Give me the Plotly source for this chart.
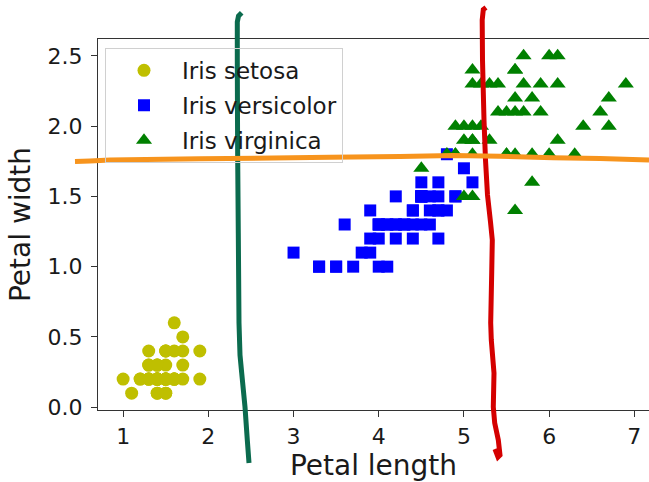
import plotly.graph_objects as go

# ---- data (Iris: petal length, petal width) ----
setosa_length = [1.4, 1.4, 1.3, 1.5, 1.4, 1.7, 1.4, 1.5, 1.4, 1.5, 1.5, 1.6, 1.4, 1.1, 1.2, 1.5, 1.3, 1.4, 1.7, 1.5,
                 1.7, 1.5, 1.0, 1.7, 1.9, 1.6, 1.6, 1.5, 1.4, 1.6, 1.6, 1.5, 1.5, 1.4, 1.5, 1.2, 1.3, 1.4, 1.3, 1.5,
                 1.3, 1.3, 1.3, 1.6, 1.9, 1.4, 1.6, 1.4, 1.5, 1.4]
setosa_width = [0.2, 0.2, 0.2, 0.2, 0.2, 0.4, 0.3, 0.2, 0.2, 0.1, 0.2, 0.2, 0.1, 0.1, 0.2, 0.4, 0.4, 0.3, 0.3, 0.3,
                0.2, 0.4, 0.2, 0.5, 0.2, 0.2, 0.4, 0.2, 0.2, 0.2, 0.2, 0.4, 0.1, 0.2, 0.2, 0.2, 0.2, 0.1, 0.2, 0.2,
                0.3, 0.3, 0.2, 0.6, 0.4, 0.3, 0.2, 0.2, 0.2, 0.2]
versicolor_length = [4.7, 4.5, 4.9, 4.0, 4.6, 4.5, 4.7, 3.3, 4.6, 3.9, 3.5, 4.2, 4.0, 4.7, 3.6, 4.4, 4.5, 4.1, 4.5, 3.9,
                     4.8, 4.0, 4.9, 4.7, 4.3, 4.4, 4.8, 5.0, 4.5, 3.5, 3.8, 3.7, 3.9, 5.1, 4.5, 4.5, 4.7, 4.4, 4.1, 4.0,
                     4.4, 4.6, 4.0, 3.3, 4.2, 4.2, 4.2, 4.3, 3.0, 4.1]
versicolor_width = [1.4, 1.5, 1.5, 1.3, 1.5, 1.3, 1.6, 1.0, 1.3, 1.4, 1.0, 1.5, 1.0, 1.4, 1.3, 1.4, 1.5, 1.0, 1.5, 1.1,
                    1.8, 1.3, 1.5, 1.2, 1.3, 1.4, 1.4, 1.7, 1.5, 1.0, 1.1, 1.0, 1.2, 1.6, 1.5, 1.6, 1.5, 1.3, 1.3, 1.3,
                    1.2, 1.4, 1.2, 1.0, 1.3, 1.2, 1.3, 1.3, 1.1, 1.3]
virginica_length = [6.0, 5.1, 5.9, 5.6, 5.8, 6.6, 4.5, 6.3, 5.8, 6.1, 5.1, 5.3, 5.5, 5.0, 5.1, 5.3, 5.5, 6.7, 6.9, 5.0,
                    5.7, 4.9, 6.7, 4.9, 5.7, 6.0, 4.8, 4.9, 5.6, 5.8, 6.1, 6.4, 5.6, 5.1, 5.6, 6.1, 5.6, 5.5, 4.8, 5.4,
                    5.6, 5.1, 5.1, 5.9, 5.7, 5.2, 5.0, 5.2, 5.4, 5.1]
virginica_width = [2.5, 1.9, 2.1, 1.8, 2.2, 2.1, 1.7, 1.8, 1.8, 2.5, 2.0, 1.9, 2.1, 2.0, 2.4, 2.3, 1.8, 2.2, 2.3, 1.5,
                   2.3, 2.0, 2.0, 1.8, 2.1, 1.8, 1.8, 1.8, 2.1, 1.6, 1.9, 2.0, 2.2, 1.5, 1.4, 2.3, 2.4, 1.8, 1.8, 2.1,
                   2.4, 2.3, 1.9, 2.3, 2.5, 2.3, 1.9, 2.0, 2.3, 1.8]

x_ticks = [1, 2, 3, 4, 5, 6, 7]
y_ticks = [0.0, 0.5, 1.0, 1.5, 2.0, 2.5]
y_tick_labels = ["0.0", "0.5", "1.0", "1.5", "2.0", "2.5"]

# ---- hand-drawn strokes (pixel coordinates of the overlay drawing) ----
green_stroke = [(241.7, 12.7), (238.5, 16), (237.3, 22), (237.3, 60), (237.5, 120), (237.7, 160), (238.3, 233),
                (239, 323), (240, 355), (241.7, 373), (245, 407), (247.3, 440), (249, 463)]
red_stroke = [(486, 7.5), (483.3, 9.5), (482.2, 20), (482.5, 60), (484, 120), (485.5, 160), (487.5, 195),
              (490.5, 222), (492.3, 240), (491.7, 273), (490.7, 323), (491.3, 340), (494, 373), (493.3, 407),
              (494.7, 423), (498.3, 440), (500, 455), (498, 457), (495, 449)]
orange_stroke = [(75, 161.5), (90, 161), (110, 160), (200, 158.8), (330, 157.3), (400, 156.5), (453, 155.5),
                 (500, 156.2), (553, 157.7), (600, 158.6), (649, 160)]

W, H = 649, 482
ML, MR, MT, MB = 98, 0, 39, 72
PW, PH = W - ML - MR, H - MT - MB


def to_path(points):
    pts = [((x - ML) / PW, (H - MB - y) / PH) for x, y in points]
    return "M " + " L ".join(f"{a:.5f},{b:.5f}" for a, b in pts)


font = "DejaVu Sans, Verdana, sans-serif"
txt = "#1a1a1a"

fig = go.Figure()
fig.add_trace(go.Scatter(x=setosa_length, y=setosa_width, mode="markers", name="Iris setosa",
                         marker=dict(symbol="circle", size=13, color="#bfbf00")))
fig.add_trace(go.Scatter(x=versicolor_length, y=versicolor_width, mode="markers", name="Iris versicolor",
                         marker=dict(symbol="square", size=12, color="#0000ff")))
fig.add_trace(go.Scatter(x=virginica_length, y=virginica_width, mode="markers", name="Iris virginica",
                         marker=dict(symbol="triangle-up", size=14, color="#008000")))

shapes = [
    dict(type="path", xref="paper", yref="paper", path=to_path(green_stroke),
         line=dict(color="#0b6b4e", width=5), layer="above"),
    dict(type="path", xref="paper", yref="paper", path=to_path(red_stroke),
         line=dict(color="#d40000", width=5), layer="above"),
    dict(type="path", xref="paper", yref="paper", path=to_path(orange_stroke),
         line=dict(color="#f7941d", width=5), layer="above"),
]

fig.update_layout(
    width=W, height=H,
    margin=dict(l=ML, r=MR, t=MT, b=MB, pad=0),
    paper_bgcolor="white", plot_bgcolor="white",
    font=dict(family=font, size=22, color=txt),
    showlegend=True,
    legend=dict(x=0.0127, y=0.976, xanchor="left", yanchor="top",
                bgcolor="rgba(255,255,255,0)", bordercolor="#d0d0d0", borderwidth=1,
                font=dict(family=font, size=23, color=txt), itemwidth=66,
                tracegroupgap=2),
    shapes=shapes,
    xaxis=dict(range=[0.705, 7.172], tickmode="array", tickvals=x_ticks, automargin=False,
               showgrid=False, zeroline=False, showline=True, linecolor="#333333", linewidth=1.3,
               mirror=True, ticks="outside", ticklen=6, tickcolor="#333333", tickwidth=1.3,
               tickfont=dict(family=font, size=22, color=txt),
               title=dict(text="Petal length", font=dict(family=font, size=28, color=txt), standoff=8)),
    yaxis=dict(range=[-0.02, 2.62], tickmode="array", tickvals=y_ticks, ticktext=y_tick_labels, automargin=False,
               showgrid=False, zeroline=False, showline=True, linecolor="#333333", linewidth=1.3,
               mirror=False, ticks="outside", ticklen=6, tickcolor="#333333", tickwidth=1.3,
               ticklabelstandoff=4,
               tickfont=dict(family=font, size=22, color=txt),
               title=dict(text="Petal width", font=dict(family=font, size=28, color=txt), standoff=8)),
)
for i, tr in enumerate(fig.data):
    tr.legendgroup = f"g{i}"

fig.write_html("out.html", config={"displayModeBar": False},
               post_script="document.body.style.margin='0';document.body.style.padding='0';")
